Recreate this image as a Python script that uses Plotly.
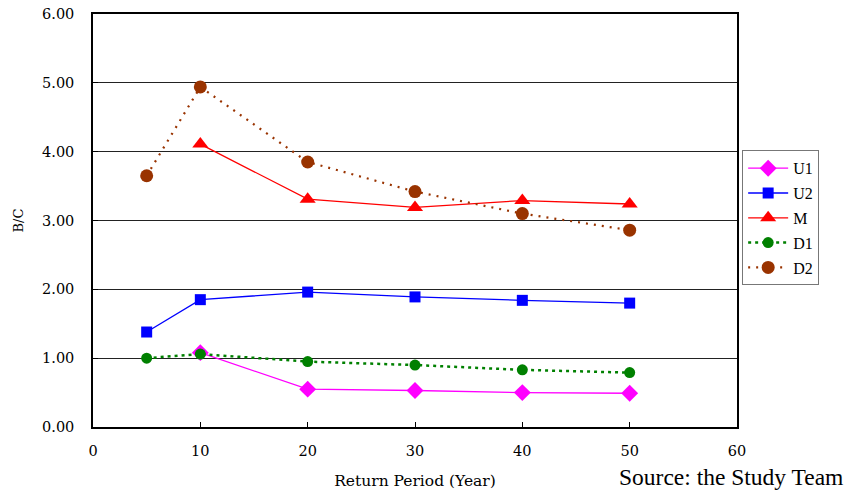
import plotly.graph_objects as go

# Return periods (years) and benefit/cost ratios per scheme
periods = [5, 10, 20, 30, 40, 50]
periods_u1 = [10, 20, 30, 40, 50]
u1 = [1.08, 0.55, 0.53, 0.50, 0.49]
u2 = [1.38, 1.85, 1.96, 1.89, 1.84, 1.80]
m = [None, 4.11, 3.31, 3.19, 3.29, 3.24]
d1 = [1.00, 1.06, 0.95, 0.90, 0.83, 0.79]
d2 = [3.65, 4.94, 3.85, 3.42, 3.10, 2.86]

x_ticks = [0, 10, 20, 30, 40, 50, 60]
y_ticks = [0, 1, 2, 3, 4, 5, 6]

AXIS_FONT = "DejaVu Serif"
TEXT_FONT = "Liberation Serif"

fig = go.Figure()

series = [
    ("U1", periods_u1, u1, "#FF00FF", "solid", 1.3, "diamond", 13),
    ("U2", periods, u2, "#0000FF", "solid", 1.3, "square", 11),
    ("M", periods, m, "#FF0000", "solid", 1.3, "triangle-up", 14),
    ("D1", periods, d1, "#008000", "3px,4px", 2.5, "circle", 11),
    ("D2", periods, d2, "#993300", "2px,6px", 2.2, "circle", 13),
]

for name, xs, ys, color, dash, width, symbol, size in series:
    fig.add_trace(go.Scatter(
        x=xs, y=ys, name=name, mode="lines+markers",
        line=dict(color=color, dash=dash, width=width),
        marker=dict(symbol=symbol, size=size, color=color),
        legendgroup=name,
        connectgaps=False,
    ))

fig.update_layout(
    width=847, height=493,
    margin=dict(l=93, r=110, t=14, b=66),
    paper_bgcolor="white", plot_bgcolor="white",
    font=dict(family=AXIS_FONT, color="black", size=14),
    showlegend=True,
    legend=dict(
        x=1.008, xanchor="left", y=0.67, yanchor="top",
        bordercolor="#777777", borderwidth=1,
        font=dict(family=TEXT_FONT, size=16),
        tracegroupgap=1,
        traceorder="grouped",
        itemwidth=40,
    ),
    xaxis=dict(
        range=[0, 60], tickvals=x_ticks, ticktext=[str(v) for v in x_ticks],
        showgrid=False, zeroline=False, automargin=False,
        showline=True, linecolor="black", linewidth=1.5, mirror=True,
        ticks="inside", ticklen=5, tickcolor="black",
        ticklabelstandoff=10,
        tickfont=dict(size=14.5),
        title=dict(text="Return Period (Year)", font=dict(size=15.5), standoff=17),
    ),
    yaxis=dict(
        range=[0, 6], tickvals=y_ticks, tickformat=".2f",
        showgrid=True, gridcolor="#222222", gridwidth=1,
        zeroline=False, automargin=False,
        showline=True, linecolor="black", linewidth=1.5, mirror=True,
        ticks="inside", ticklen=5, tickcolor="black",
        ticklabelstandoff=14,
        tickfont=dict(size=14.5),
        title=dict(text="B/C", font=dict(size=13), standoff=16),
    ),
)

fig.add_annotation(
    text="Source: the Study Team", xref="paper", yref="paper",
    x=1.0, xanchor="right", y=-0.121, yanchor="middle",
    xshift=108, showarrow=False, font=dict(family=TEXT_FONT, size=23.5),
)

fig.write_html("out.html")
